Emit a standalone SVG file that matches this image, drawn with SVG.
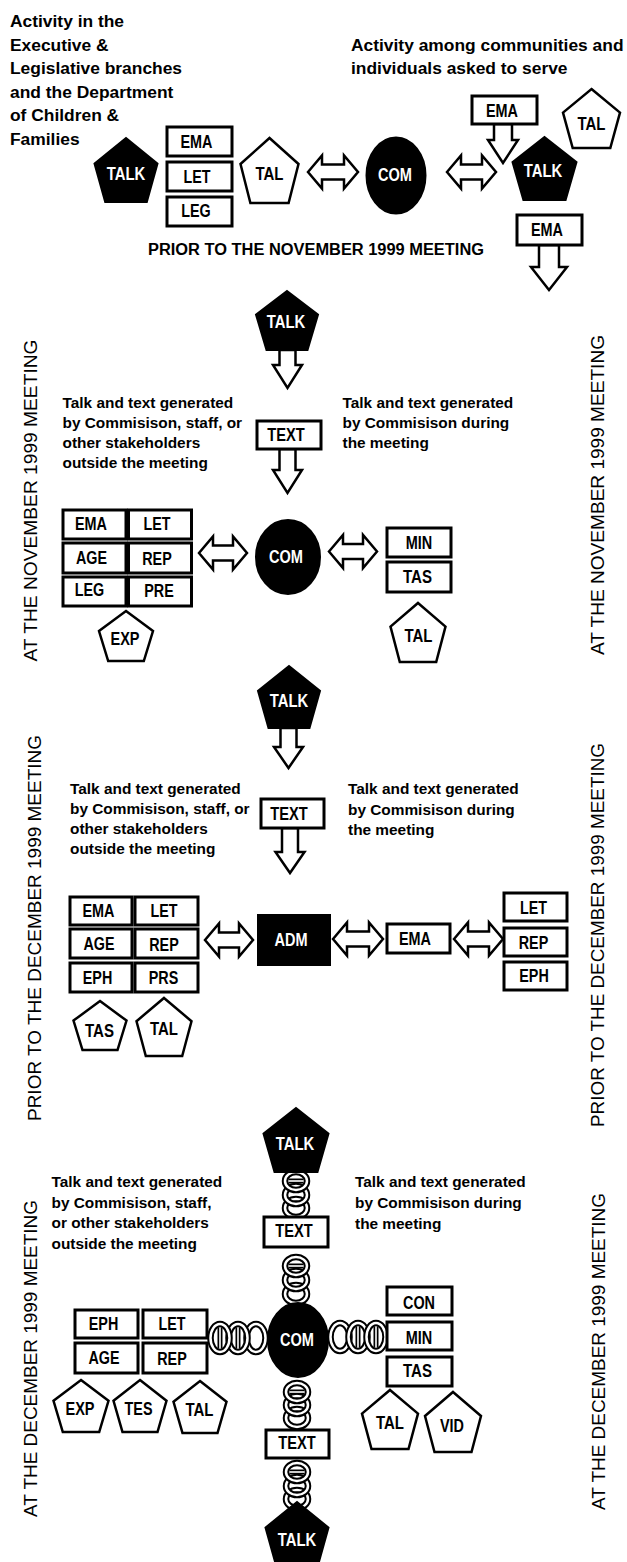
<svg xmlns="http://www.w3.org/2000/svg" xmlns:xlink="http://www.w3.org/1999/xlink" width="627" height="1562" viewBox="0 0 627 1562">
  <style>
    .box { fill: #fff; stroke: #000; stroke-width: 3; }
    .blk { fill: #000; stroke: #000; stroke-width: 2; }
    .pw { fill: #fff; stroke: #000; stroke-width: 2.5; stroke-linejoin: miter; }
    .arr { fill: #fff; stroke: #000; stroke-width: 2.5; stroke-linejoin: miter; }
    .ro { fill: none; stroke: #000; stroke-width: 6.5; }
    .ri { fill: none; stroke: #fff; stroke-width: 2.5; }
    .bo { stroke: #000; stroke-width: 5; }
    .bi { stroke: #fff; stroke-width: 1.6; }
    .lbl { font-family: "Liberation Sans", Arial, sans-serif; font-weight: bold; font-size: 17.5px; text-anchor: middle; fill: #000; }
    .w { fill: #fff; }
    .body { font-family: "Liberation Sans", Arial, sans-serif; font-weight: bold; font-size: 15.4px; fill: #000; }
    .head { font-family: "Liberation Sans", Arial, sans-serif; font-weight: bold; font-size: 17.4px; fill: #000; }
    .vert { font-family: "Liberation Sans", Arial, sans-serif; font-size: 19px; fill: #000; }
  </style>
  <defs>
    <!-- chain link on a vertical chain -->
    <g id="rv"><ellipse rx="11" ry="9" class="ro"/><ellipse rx="11" ry="9" class="ri"/></g>
    <!-- the same link with the next link passing through it -->
    <g id="rvb"><use xlink:href="#rv"/><line x1="-7.5" y1="0" x2="7.5" y2="0" class="bo"/><line x1="-7.5" y1="0" x2="7.5" y2="0" class="bi"/></g>
    <!-- chain link on a horizontal chain -->
    <g id="rh"><ellipse rx="9.5" ry="14" class="ro"/><ellipse rx="9.5" ry="14" class="ri"/></g>
    <g id="rhb"><use xlink:href="#rh"/><line x1="0" y1="-10.5" x2="0" y2="10.5" class="bo"/><line x1="0" y1="-10.5" x2="0" y2="10.5" class="bi"/></g>
  </defs>
  <rect width="627" height="1562" fill="#fff"/>

  <!-- headings -->
  <g id="heading-left" class="head">
    <text x="10" y="27">Activity in the</text>
    <text x="10" y="50.5">Executive &amp;</text>
    <text x="10" y="74">Legislative branches</text>
    <text x="10" y="97.5">and the Department</text>
    <text x="10" y="121">of Children &amp;</text>
    <text x="10" y="144.5">Families</text>
  </g>
  <g id="heading-right" class="head">
    <text x="351" y="50.7">Activity among communities and</text>
    <text x="351" y="74">individuals asked to serve</text>
  </g>
  <g id="heading-prior-nov">
    <text class="head" x="148" y="255" font-size="19.5px" textLength="336" lengthAdjust="spacingAndGlyphs">PRIOR TO THE NOVEMBER 1999 MEETING</text>
  </g>

  <!-- side captions -->
  <g id="side-captions" class="vert">
    <text transform="translate(36.5,661.5) rotate(-90)" textLength="322" lengthAdjust="spacingAndGlyphs">AT THE NOVEMBER 1999 MEETING</text>
    <text transform="translate(604,655) rotate(-90)" textLength="320" lengthAdjust="spacingAndGlyphs">AT THE NOVEMBER 1999 MEETING</text>
    <text transform="translate(40.5,1121) rotate(-90)" textLength="386" lengthAdjust="spacingAndGlyphs">PRIOR TO THE DECEMBER 1999 MEETING</text>
    <text transform="translate(604,1127) rotate(-90)" textLength="384" lengthAdjust="spacingAndGlyphs">PRIOR TO THE DECEMBER 1999 MEETING</text>
    <text transform="translate(36.5,1517) rotate(-90)" textLength="317" lengthAdjust="spacingAndGlyphs">AT THE DECEMBER 1999 MEETING</text>
    <text transform="translate(605,1510) rotate(-90)" textLength="317" lengthAdjust="spacingAndGlyphs">AT THE DECEMBER 1999 MEETING</text>
  </g>

  <!-- notes -->
  <g id="notes" class="body">
    <text x="62.5" y="407.5">Talk and text generated</text>
    <text x="62.5" y="427.5">by Commisison, staff, or</text>
    <text x="62.5" y="447.5">other stakeholders</text>
    <text x="62.5" y="467.5">outside the meeting</text>
    <text x="342.5" y="407.5">Talk and text generated</text>
    <text x="342.5" y="427.5">by Commisison during</text>
    <text x="342.5" y="448">the meeting</text>

    <text x="70" y="794">Talk and text generated</text>
    <text x="70" y="814">by Commisison, staff, or</text>
    <text x="70" y="834">other stakeholders</text>
    <text x="70" y="854">outside the meeting</text>
    <text x="348" y="793.5">Talk and text generated</text>
    <text x="348" y="814.5">by Commisison during</text>
    <text x="348" y="835">the meeting</text>

    <text x="51.5" y="1187">Talk and text generated</text>
    <text x="51.5" y="1207.5">by Commisison, staff,</text>
    <text x="51.5" y="1228">or other stakeholders</text>
    <text x="51.5" y="1248.5">outside the meeting</text>
    <text x="355" y="1187">Talk and text generated</text>
    <text x="355" y="1207.5">by Commisison during</text>
    <text x="355" y="1229">the meeting</text>
  </g>

  <!-- connectors: block arrows and chains -->
  <g id="connectors">
    <path class="arr" d="M308,172 L322,155.5 V164.5 H344 V155.5 L358,172 L344,188.5 V179.5 H322 V188.5 Z"/>
    <path class="arr" d="M447,172 L461,155.5 V164.5 H482 V155.5 L496,172 L482,188.5 V179.5 H461 V188.5 Z"/>
    <path class="arr" d="M494,124 H512 V140 H518 L503,163 L488,140 H494 Z"/>
    <path class="arr" d="M539,245 H559 V267 H567 L549,290 L531,267 H539 Z"/>

    <path class="arr" d="M279.5,350 H295.5 V365 H302 L287.5,388 L273,365 H279.5 Z"/>
    <path class="arr" d="M279.5,449 H295.5 V470 H302 L287.5,493 L273,470 H279.5 Z"/>
    <path class="arr" d="M199,553 L213,536.5 V545.5 H233 V536.5 L247,553 L233,569.5 V560.5 H213 V569.5 Z"/>
    <path class="arr" d="M329,551.5 L343,535 V544 H363 V535 L377,551.5 L363,568 V559 H343 V568 Z"/>

    <path class="arr" d="M280.5,728 H296.5 V747 H303 L288.5,768 L274,747 H280.5 Z"/>
    <path class="arr" d="M282,828 H298 V852 H304.5 L290,873 L275.5,852 H282 Z"/>
    <path class="arr" d="M205,940 L219,923.5 V932.5 H239 V923.5 L253,940 L239,956.5 V947.5 H219 V956.5 Z"/>
    <path class="arr" d="M333,939 L347,922.5 V931.5 H369 V922.5 L383,939 L369,955.5 V946.5 H347 V955.5 Z"/>
    <path class="arr" d="M454,939 L468,922.5 V931.5 H489 V922.5 L503,939 L489,955.5 V946.5 H468 V955.5 Z"/>

    <!-- chain: TALK to TEXT -->
    <use xlink:href="#rv" x="296" y="1208"/>
    <use xlink:href="#rv" x="296" y="1195"/>
    <use xlink:href="#rvb" x="296" y="1181"/>
    <!-- chain: TEXT to COM -->
    <use xlink:href="#rv" x="296" y="1294"/>
    <use xlink:href="#rv" x="296" y="1280"/>
    <use xlink:href="#rvb" x="296" y="1266"/>
    <!-- chain: COM to TEXT -->
    <use xlink:href="#rv" x="297" y="1418"/>
    <use xlink:href="#rv" x="297" y="1405"/>
    <use xlink:href="#rvb" x="297" y="1392"/>
    <!-- chain: TEXT to TALK -->
    <use xlink:href="#rv" x="297" y="1499"/>
    <use xlink:href="#rv" x="297" y="1486"/>
    <use xlink:href="#rvb" x="297" y="1472"/>
    <!-- chain: grid to COM -->
    <use xlink:href="#rh" x="256" y="1338"/>
    <use xlink:href="#rhb" x="238" y="1338"/>
    <use xlink:href="#rhb" x="220" y="1338"/>
    <!-- chain: COM to MIN -->
    <use xlink:href="#rh" x="340" y="1337"/>
    <use xlink:href="#rhb" x="358" y="1337"/>
    <use xlink:href="#rhb" x="376" y="1337"/>
  </g>

  <!-- prior to the November meeting -->
  <g id="n1-talk"><polygon class="blk" points="126,138 157.5,163.6 146.8,202 105.2,202 94.5,163.6"/><text class="lbl w" x="126" y="180" textLength="38.5" lengthAdjust="spacingAndGlyphs">TALK</text></g>
  <g id="n1-ema"><rect class="box" x="167" y="127" width="65" height="29"/><text class="lbl" x="196.5" y="147.5" textLength="32" lengthAdjust="spacingAndGlyphs">EMA</text></g>
  <g id="n1-let"><rect class="box" x="167" y="162" width="65" height="29"/><text class="lbl" x="197" y="183" textLength="27" lengthAdjust="spacingAndGlyphs">LET</text></g>
  <g id="n1-leg"><rect class="box" x="167" y="197" width="65" height="29"/><text class="lbl" x="196" y="217" textLength="29.5" lengthAdjust="spacingAndGlyphs">LEG</text></g>
  <g id="n1-tal"><polygon class="pw" points="269.5,138 298.5,164 288.6,203 250.4,203 240.5,164"/><text class="lbl" x="269.5" y="180" textLength="28" lengthAdjust="spacingAndGlyphs">TAL</text></g>
  <g id="n1-com"><ellipse class="blk" cx="396" cy="175.5" rx="29.5" ry="38"/><text class="lbl w" x="395" y="181" textLength="34" lengthAdjust="spacingAndGlyphs">COM</text></g>
  <g id="n1-ema-top"><rect class="box" x="472" y="96" width="65" height="28"/><text class="lbl" x="502" y="117" textLength="32" lengthAdjust="spacingAndGlyphs">EMA</text></g>
  <g id="n1-tal-right"><polygon class="pw" points="591.5,89 620,112.6 610.3,148 572.7,148 563,112.6"/><text class="lbl" x="591.5" y="130" textLength="28" lengthAdjust="spacingAndGlyphs">TAL</text></g>
  <g id="n1-talk-right"><polygon class="blk" points="544.5,137 576.5,162.2 565.6,200 523.4,200 512.5,162.2"/><text class="lbl w" x="543" y="177" textLength="38.5" lengthAdjust="spacingAndGlyphs">TALK</text></g>
  <g id="n1-ema-low"><rect class="box" x="517" y="215" width="65" height="30"/><text class="lbl" x="547" y="236" textLength="32" lengthAdjust="spacingAndGlyphs">EMA</text></g>

  <!-- at the November meeting -->
  <g id="n2-talk"><polygon class="blk" points="287,291 318,314.6 307.5,350 266.5,350 256,314.6"/><text class="lbl w" x="286" y="328" textLength="38.5" lengthAdjust="spacingAndGlyphs">TALK</text></g>
  <g id="n2-text"><rect class="box" x="257" y="421" width="64" height="28"/><text class="lbl" x="286" y="441" textLength="37.5" lengthAdjust="spacingAndGlyphs">TEXT</text></g>
  <g id="n2-com"><ellipse class="blk" cx="288" cy="557" rx="32" ry="37"/><text class="lbl w" x="286" y="562.5" textLength="34" lengthAdjust="spacingAndGlyphs">COM</text></g>
  <g id="n2-ema"><rect class="box" x="63" y="510" width="63" height="29"/><text class="lbl" x="91" y="530" textLength="32" lengthAdjust="spacingAndGlyphs">EMA</text></g>
  <g id="n2-let"><rect class="box" x="128.5" y="510" width="63" height="29"/><text class="lbl" x="157" y="529.5" textLength="27" lengthAdjust="spacingAndGlyphs">LET</text></g>
  <g id="n2-age"><rect class="box" x="63" y="543" width="63" height="30"/><text class="lbl" x="91.5" y="563.5" textLength="31" lengthAdjust="spacingAndGlyphs">AGE</text></g>
  <g id="n2-rep"><rect class="box" x="128.5" y="543" width="63" height="30"/><text class="lbl" x="157" y="564.5" textLength="29.5" lengthAdjust="spacingAndGlyphs">REP</text></g>
  <g id="n2-leg"><rect class="box" x="63" y="577" width="63" height="29"/><text class="lbl" x="89.5" y="595.5" textLength="29.5" lengthAdjust="spacingAndGlyphs">LEG</text></g>
  <g id="n2-pre"><rect class="box" x="128.5" y="577" width="63" height="29"/><text class="lbl" x="159" y="597" textLength="29.5" lengthAdjust="spacingAndGlyphs">PRE</text></g>
  <g id="n2-exp"><polygon class="pw" points="126,611 153,631 143.8,661 108.2,661 99,631"/><text class="lbl" x="125" y="645" textLength="29" lengthAdjust="spacingAndGlyphs">EXP</text></g>
  <g id="n2-min"><rect class="box" x="387" y="528" width="64" height="29"/><text class="lbl" x="419" y="548.5" textLength="26.5" lengthAdjust="spacingAndGlyphs">MIN</text></g>
  <g id="n2-tas"><rect class="box" x="387" y="562" width="64" height="30"/><text class="lbl" x="417.5" y="583" textLength="29" lengthAdjust="spacingAndGlyphs">TAS</text></g>
  <g id="n2-tal"><polygon class="pw" points="418,603 445.5,626.6 436.2,662 399.8,662 390.5,626.6"/><text class="lbl" x="418.5" y="642" textLength="28" lengthAdjust="spacingAndGlyphs">TAL</text></g>

  <!-- prior to the December meeting -->
  <g id="n3-talk"><polygon class="blk" points="289,666 320,690.8 309.5,728 268.5,728 258,690.8"/><text class="lbl w" x="289" y="707" textLength="38.5" lengthAdjust="spacingAndGlyphs">TALK</text></g>
  <g id="n3-text"><rect class="box" x="261" y="799" width="63" height="29"/><text class="lbl" x="289" y="820" textLength="37.5" lengthAdjust="spacingAndGlyphs">TEXT</text></g>
  <g id="n3-adm"><rect class="blk" x="258" y="915" width="72" height="50"/><text class="lbl w" x="291" y="945.5" textLength="33" lengthAdjust="spacingAndGlyphs">ADM</text></g>
  <g id="n3-ema"><rect class="box" x="70" y="897" width="62" height="28"/><text class="lbl" x="98.5" y="917" textLength="32" lengthAdjust="spacingAndGlyphs">EMA</text></g>
  <g id="n3-let"><rect class="box" x="135" y="897" width="63" height="28"/><text class="lbl" x="164" y="917" textLength="27" lengthAdjust="spacingAndGlyphs">LET</text></g>
  <g id="n3-age"><rect class="box" x="70" y="929" width="62" height="29"/><text class="lbl" x="99" y="950" textLength="31" lengthAdjust="spacingAndGlyphs">AGE</text></g>
  <g id="n3-rep"><rect class="box" x="135" y="929" width="63" height="29"/><text class="lbl" x="164" y="950.5" textLength="29.5" lengthAdjust="spacingAndGlyphs">REP</text></g>
  <g id="n3-eph"><rect class="box" x="70" y="963" width="62" height="29"/><text class="lbl" x="97.5" y="983.5" textLength="29.5" lengthAdjust="spacingAndGlyphs">EPH</text></g>
  <g id="n3-prs"><rect class="box" x="135" y="963" width="63" height="29"/><text class="lbl" x="163.5" y="983.5" textLength="29.5" lengthAdjust="spacingAndGlyphs">PRS</text></g>
  <g id="n3-tas"><polygon class="pw" points="100,1001 126.5,1020.6 117.5,1050 82.5,1050 73.5,1020.6"/><text class="lbl" x="99.5" y="1037" textLength="29" lengthAdjust="spacingAndGlyphs">TAS</text></g>
  <g id="n3-tal"><polygon class="pw" points="164,998 191.5,1021.2 182.2,1056 145.8,1056 136.5,1021.2"/><text class="lbl" x="164" y="1035" textLength="28" lengthAdjust="spacingAndGlyphs">TAL</text></g>
  <g id="n3-ema-mid"><rect class="box" x="387" y="924" width="63" height="29"/><text class="lbl" x="415" y="945" textLength="32" lengthAdjust="spacingAndGlyphs">EMA</text></g>
  <g id="n3-let-r"><rect class="box" x="504" y="893" width="63" height="28"/><text class="lbl" x="533.5" y="913.5" textLength="27" lengthAdjust="spacingAndGlyphs">LET</text></g>
  <g id="n3-rep-r"><rect class="box" x="504" y="928" width="63" height="28"/><text class="lbl" x="533.5" y="948.5" textLength="29.5" lengthAdjust="spacingAndGlyphs">REP</text></g>
  <g id="n3-eph-r"><rect class="box" x="504" y="962" width="63" height="28"/><text class="lbl" x="534" y="982" textLength="29.5" lengthAdjust="spacingAndGlyphs">EPH</text></g>

  <!-- at the December meeting -->
  <g id="n4-talk-top"><polygon class="blk" points="296,1108 328.5,1133.6 317.5,1172 274.5,1172 263.5,1133.6"/><text class="lbl w" x="295" y="1150" textLength="38.5" lengthAdjust="spacingAndGlyphs">TALK</text></g>
  <g id="n4-text-top"><rect class="box" x="264" y="1217" width="64" height="30"/><text class="lbl" x="294" y="1237" textLength="37.5" lengthAdjust="spacingAndGlyphs">TEXT</text></g>
  <g id="n4-com"><ellipse class="blk" cx="298" cy="1340" rx="30" ry="37"/><text class="lbl w" x="297" y="1345.5" textLength="34" lengthAdjust="spacingAndGlyphs">COM</text></g>
  <g id="n4-text-low"><rect class="box" x="266" y="1430" width="63" height="28"/><text class="lbl" x="297" y="1449" textLength="37.5" lengthAdjust="spacingAndGlyphs">TEXT</text></g>
  <g id="n4-talk-low"><polygon class="blk" points="297,1502 328.5,1527.6 317.8,1566 276.2,1566 265.5,1527.6"/><text class="lbl w" x="297" y="1546" textLength="38.5" lengthAdjust="spacingAndGlyphs">TALK</text></g>
  <g id="n4-eph"><rect class="box" x="75" y="1310" width="63" height="28"/><text class="lbl" x="103.5" y="1330" textLength="29.5" lengthAdjust="spacingAndGlyphs">EPH</text></g>
  <g id="n4-let"><rect class="box" x="143" y="1310" width="64" height="28"/><text class="lbl" x="172" y="1329.5" textLength="27" lengthAdjust="spacingAndGlyphs">LET</text></g>
  <g id="n4-age"><rect class="box" x="75" y="1343" width="63" height="30"/><text class="lbl" x="104" y="1364" textLength="31" lengthAdjust="spacingAndGlyphs">AGE</text></g>
  <g id="n4-rep"><rect class="box" x="143" y="1343" width="64" height="30"/><text class="lbl" x="172" y="1365" textLength="29.5" lengthAdjust="spacingAndGlyphs">REP</text></g>
  <g id="n4-exp"><polygon class="pw" points="81,1380 108.5,1400.8 99.2,1432 62.8,1432 53.5,1400.8"/><text class="lbl" x="80" y="1415" textLength="29" lengthAdjust="spacingAndGlyphs">EXP</text></g>
  <g id="n4-tes"><polygon class="pw" points="140,1380 166.5,1400.8 157.5,1432 122.5,1432 113.5,1400.8"/><text class="lbl" x="138.5" y="1415" textLength="28" lengthAdjust="spacingAndGlyphs">TES</text></g>
  <g id="n4-tal"><polygon class="pw" points="200,1381 226.5,1401.8 217.5,1433 182.5,1433 173.5,1401.8"/><text class="lbl" x="199.5" y="1416" textLength="28" lengthAdjust="spacingAndGlyphs">TAL</text></g>
  <g id="n4-con"><rect class="box" x="387" y="1287" width="65" height="28"/><text class="lbl" x="419" y="1308.5" textLength="32" lengthAdjust="spacingAndGlyphs">CON</text></g>
  <g id="n4-min"><rect class="box" x="387" y="1322" width="65" height="28"/><text class="lbl" x="419" y="1343.5" textLength="26.5" lengthAdjust="spacingAndGlyphs">MIN</text></g>
  <g id="n4-tas"><rect class="box" x="387" y="1357" width="65" height="29"/><text class="lbl" x="417.5" y="1377" textLength="29" lengthAdjust="spacingAndGlyphs">TAS</text></g>
  <g id="n4-tal-r"><polygon class="pw" points="390,1390 418,1413.6 408.5,1449 371.5,1449 362,1413.6"/><text class="lbl" x="390" y="1428.5" textLength="28" lengthAdjust="spacingAndGlyphs">TAL</text></g>
  <g id="n4-vid"><polygon class="pw" points="453,1392 481,1416 471.5,1452 434.5,1452 425,1416"/><text class="lbl" x="452" y="1432" textLength="24" lengthAdjust="spacingAndGlyphs">VID</text></g>
</svg>
